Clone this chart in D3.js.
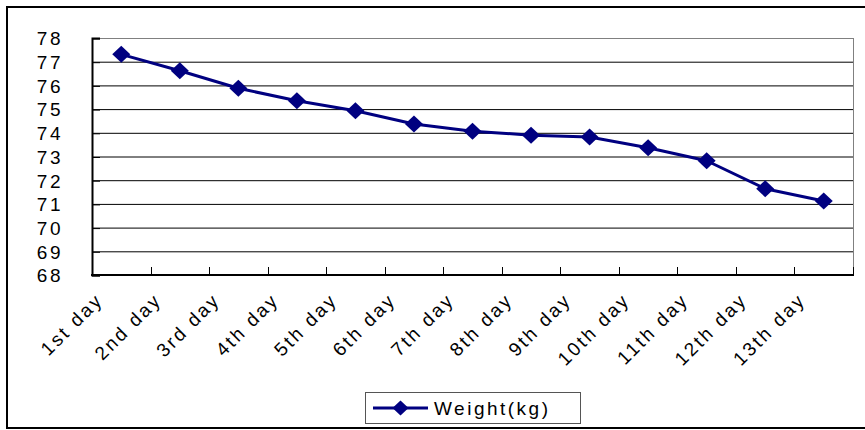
<!DOCTYPE html>
<html>
<head>
<meta charset="utf-8">
<script src="https://cdn.jsdelivr.net/npm/d3@7"></script>
<style>
  html, body { margin: 0; padding: 0; background: #fff; }
  svg { display: block; }
  text { font-family: "Liberation Sans", Arial, sans-serif; fill: #000; }
</style>
</head>
<body>
<svg id="chart" width="865" height="430"></svg>
<script>
const categories = ["1st day","2nd day","3rd day","4th day","5th day","6th day","7th day",
                    "8th day","9th day","10th day","11th day","12th day","13th day"];
const weights = [77.31, 76.62, 75.88, 75.35, 74.93, 74.37, 74.07, 73.90, 73.82, 73.37, 72.82, 71.64, 71.12];
const yTicks = [68,69,70,71,72,73,74,75,76,77,78];
const seriesName = "Weight(kg)";

const svg = d3.select("#chart");
const W = 865, H = 430;
const plot = {left: 92, right: 853, top: 38, bottom: 275};
const navy = "#000080";

// outer border (right edge off-screen)
svg.append("rect").attr("x", 7).attr("y", 7).attr("width", 880).attr("height", 421)
  .attr("fill", "#fff").attr("stroke", "#000").attr("stroke-width", 2);

const x = d3.scaleBand().domain(categories).range([plot.left, plot.right]).padding(0);
const y = d3.scaleLinear().domain([68, 78]).range([plot.bottom, plot.top]);

// gridlines
svg.append("g").selectAll("line").data(yTicks.filter(d => d > 68 && d < 78)).join("line")
  .attr("x1", plot.left).attr("x2", plot.right)
  .attr("y1", d => y(d) + 0.5).attr("y2", d => y(d) + 0.5)
  .attr("stroke", "#000").attr("stroke-width", 1);

// plot border top/right (gray)
svg.append("line").attr("x1", plot.left).attr("x2", plot.right + 0.5)
  .attr("y1", y(78) + 0.5).attr("y2", y(78) + 0.5).attr("stroke", "#808080");
svg.append("line").attr("x1", plot.right + 0.5).attr("x2", plot.right + 0.5)
  .attr("y1", plot.top).attr("y2", plot.bottom).attr("stroke", "#808080");

// y axis
const yAxis = d3.axisLeft(y).tickValues(yTicks).tickSize(-8).tickPadding(0).tickFormat(d3.format("d"));
const gy = svg.append("g").attr("transform", `translate(${plot.left},0)`).call(yAxis);
gy.select(".domain").attr("stroke", "#000").attr("stroke-width", 2);
gy.selectAll(".tick line").attr("stroke", "#000").attr("stroke-width", 1)
  .attr("transform", "translate(0,0.5)");
gy.selectAll(".tick text").attr("x", -29).attr("dy", "0.36em")
  .attr("text-anchor", "end").style("font-size", "19px").style("letter-spacing", "2.5px")
  .style("font-family", "'Liberation Sans', Arial, sans-serif").attr("fill", "#000");

// x axis with ticks between categories
const gx = svg.append("g").attr("transform", `translate(0,${plot.bottom})`);
gx.append("line").attr("x1", plot.left - 1).attr("x2", plot.right + 1)
  .attr("y1", 0).attr("y2", 0).attr("stroke", "#000").attr("stroke-width", 2);
const boundaries = categories.map(c => x(c)).concat([x(categories[categories.length-1]) + x.bandwidth()]);
gx.selectAll("line.tk").data(boundaries.slice(1)).join("line").attr("class", "tk")
  .attr("x1", d => Math.round(d) + 0.5).attr("x2", d => Math.round(d) + 0.5)
  .attr("y1", 0).attr("y2", -8).attr("stroke", "#000").attr("stroke-width", 1);
gx.selectAll("text").data(categories).join("text")
  .attr("text-anchor", "end")
  .attr("transform", d => `translate(${x(d) + x.bandwidth()/2 - 17},${26}) rotate(-45)`)
  .style("font-size", "19px").style("letter-spacing", "2.5px")
  .text(d => d);

// line
const line = d3.line().x((d, i) => x(categories[i]) + x.bandwidth()/2).y(d => y(d));
svg.append("path").datum(weights).attr("d", line)
  .attr("fill", "none").attr("stroke", navy).attr("stroke-width", 3).attr("stroke-linejoin", "round");

const diamond = (cx, cy, hw, hh) => `M${cx},${cy-hh}L${cx+hw},${cy}L${cx},${cy+hh}L${cx-hw},${cy}Z`;
svg.append("g").selectAll("path").data(weights).join("path")
  .attr("d", (d, i) => diamond(x(categories[i]) + x.bandwidth()/2, y(d), 9, 8.5))
  .attr("fill", navy);

// legend
const lg = svg.append("g");
lg.append("rect").attr("x", 365.5).attr("y", 392.5).attr("width", 215).attr("height", 31)
  .attr("fill", "#fff").attr("stroke", "#555").attr("stroke-width", 1);
lg.append("line").attr("x1", 373).attr("x2", 428).attr("y1", 408).attr("y2", 408)
  .attr("stroke", navy).attr("stroke-width", 3);
lg.append("path").attr("d", diamond(400.5, 408, 8, 7.5)).attr("fill", navy);
lg.append("text").attr("x", 434).attr("y", 415).style("font-size", "19px").style("letter-spacing", "2.5px")
  .text(seriesName);
</script>
</body>
</html>
